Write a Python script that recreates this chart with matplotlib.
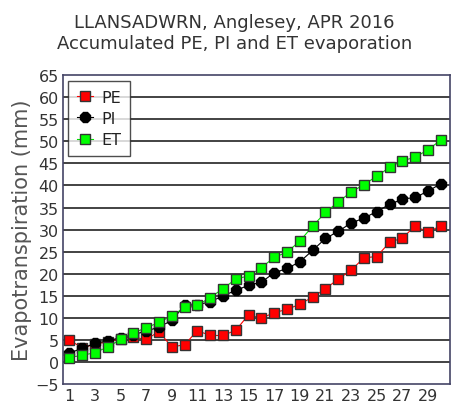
import matplotlib
matplotlib.use("Agg")
import matplotlib.pyplot as plt

days = list(range(1, 31))
pe = [5.0, 3.2, 4.0, 4.6, 5.3, 5.6, 5.1, 6.9, 3.4, 3.9, 7.1, 6.0, 6.0, 7.2, 10.7,
      9.9, 11.2, 11.9, 13.1, 14.7, 16.6, 18.8, 20.8, 23.6, 23.9, 27.1, 28.1, 30.8, 29.4, 30.9]
pi = [2.0, 3.1, 4.2, 4.8, 5.5, 6.2, 7.0, 7.9, 9.4, 12.8, 13.0, 13.6, 15.0, 16.2, 17.4,
      18.1, 20.2, 21.2, 22.7, 25.3, 28.0, 29.6, 31.5, 32.6, 34.1, 35.7, 36.9, 37.3, 38.7, 40.4]
et = [1.0, 1.5, 2.1, 3.4, 5.1, 6.6, 7.7, 9.0, 10.4, 12.4, 12.8, 14.6, 16.6, 18.8, 19.5,
      21.4, 23.7, 24.9, 27.4, 30.8, 33.9, 36.3, 38.5, 40.2, 42.1, 44.1, 45.6, 46.4, 48.1, 50.3]
xticks = list(range(1, 30, 2))
yticks = list(range(-5, 70, 5))
title = "LLANSADWRN, Anglesey, APR 2016\nAccumulated PE, PI and ET evaporation"
ylabel = "Evapotranspiration (mm)"

fig = plt.figure(figsize=(4.69, 4.14), dpi=100)
ax = fig.add_axes([0.134, 0.070, 0.825, 0.746])

for v in range(0, 65, 5):
    ax.axhline(v, color="#222222", lw=1.2, zorder=1)

ax.plot(days, pe, color="red", lw=0.8, marker="s", ms=7.5, mfc="#ff0000",
        mec="#333333", mew=1.0, label="PE", zorder=3)
ax.plot(days, pi, color="black", lw=0.8, marker="8", ms=7.5, mfc="black",
        mec="black", label="PI", zorder=4)
ax.plot(days, et, color="#00dd00", lw=0.8, marker="s", ms=7.5, mfc="#00ff00",
        mec="#333333", mew=1.0, label="ET", zorder=5)

ax.set_xlim(0.5, 30.7)
ax.set_ylim(-5, 65)
ax.set_xticks(xticks)
ax.set_yticks(yticks)
ax.tick_params(axis="both", labelsize=11.5, colors="#333333", length=0, pad=3)
for s in ax.spines.values():
    s.set_color("#444466")
    s.set_linewidth(1.2)
ax.set_ylabel(ylabel, fontsize=15, color="#555555", labelpad=2)
fig.suptitle(title, fontsize=13, color="#333333", y=0.965, linespacing=1.15)

leg = ax.legend(loc="upper left", fontsize=11.5, frameon=True, fancybox=False,
                edgecolor="#222222", borderpad=0.55, handlelength=1.0,
                handletextpad=0.5, labelspacing=0.4, borderaxespad=0.35)
leg.get_frame().set_linewidth(1.0)
for t in leg.get_texts():
    t.set_color("#222222")

fig.savefig("out.png", dpi=100)
